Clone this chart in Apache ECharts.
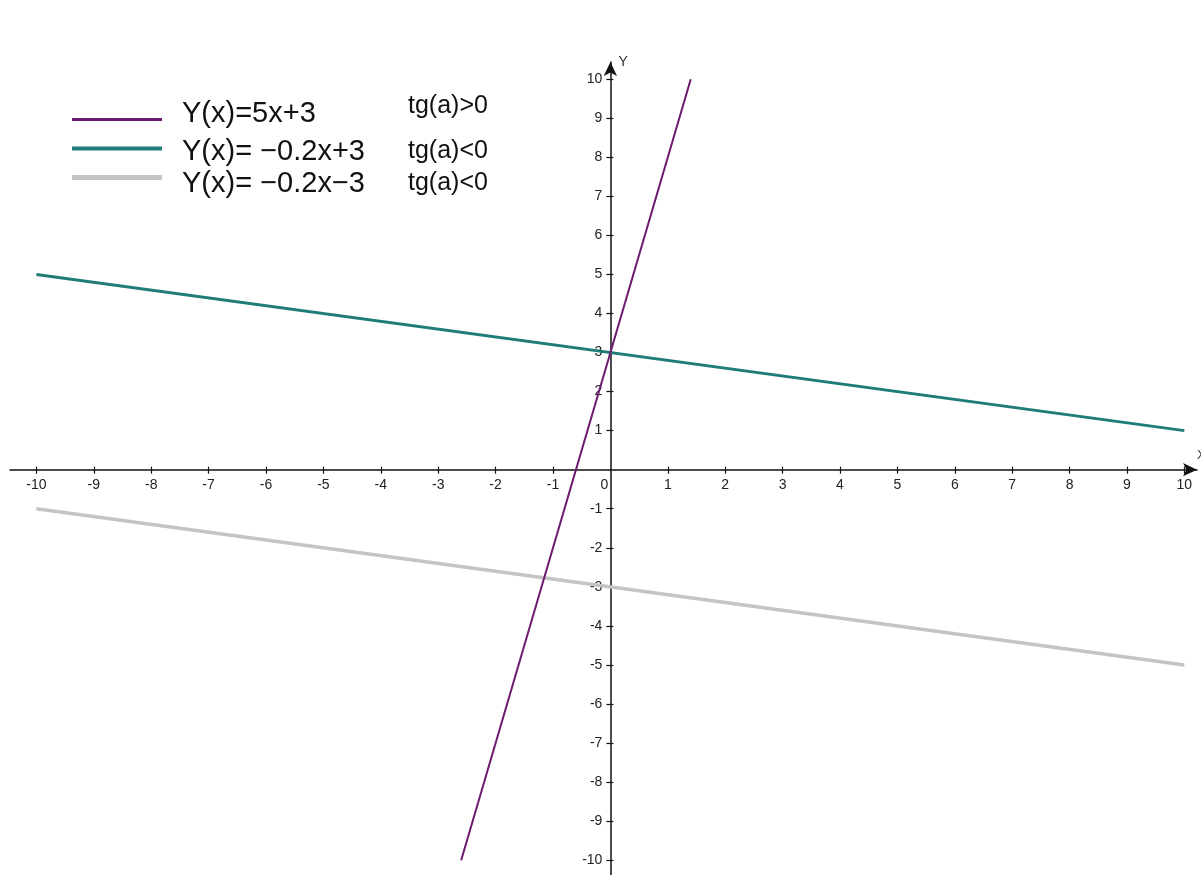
<!DOCTYPE html>
<html><head><meta charset="utf-8">
<script src="https://cdn.jsdelivr.net/npm/echarts@6/dist/echarts.min.js"></script>
<style>html,body{margin:0;padding:0;background:#fff}#c{width:1201px;height:875px}</style>
</head><body><div id="c"></div>
<script>
// Data
const seriesNames = ['Y(x)=5x+3', 'Y(x)= \u22120.2x+3', 'Y(x)= \u22120.2x\u22123'];
const slopeNotes = ['tg(a)>0', 'tg(a)<0', 'tg(a)<0'];
const purpleX = [-2.6, 1.4];
const purpleY = [-10, 10];
const tealX = [-10, 10];
const tealY = [5, 1];
const grayX = [-10, 10];
const grayY = [-1, -5];
const xTicks = [-10,-9,-8,-7,-6,-5,-4,-3,-2,-1,1,2,3,4,5,6,7,8,9,10];
const xLabels = [-10,-9,-8,-7,-6,-5,-4,-3,-2,-1,0,1,2,3,4,5,6,7,8,9,10];
const yTicks = [-10,-9,-8,-7,-6,-5,-4,-3,-2,-1,1,2,3,4,5,6,7,8,9,10];

const pairs = (xs, ys) => xs.map((x, i) => [x, ys[i]]);
const colors = ['#6c1a70', '#1f7c77', '#c4c4c4'];
const widths = [2, 3, 3.5];
const legendThick = [3, 4, 5];
const dataSets = [pairs(purpleX, purpleY), pairs(tealX, tealY), pairs(grayX, grayY)];

// layout
const W = 1201, H = 875;
const G = {left: 10, right: 4, top: 62, bottom: 0};
const xMin = -10.46, xMax = 10.22, yMin = -10.38, yMax = 10.44;
const gw = W - G.left - G.right, gh = H - G.top - G.bottom;
const zeroFromLeft = (0 - xMin) / (xMax - xMin) * gw;
const zeroFromBottom = (0 - yMin) / (yMax - yMin) * gh;

const FONT = 'Liberation Sans, Arial, sans-serif';
const labelFont = {color: '#222', fontFamily: FONT, fontSize: 14};

// per-row legend placement
const legendTops = [94, 137, 169];
const eqPads = [[0, 0, 12, 0], [6, 0, 0, 0], [12, 0, 0, 0]];
const notePads = [[0, 0, 26, 0], [6, 0, 0, 0], [12, 0, 0, 0]];

const legends = seriesNames.map((n, i) => ({
  orient: 'vertical', left: 72, top: legendTops[i], padding: 0,
  itemWidth: 90, itemHeight: legendThick[i], itemGap: 0,
  icon: 'rect',
  selectedMode: false,
  data: [n],
  formatter: name => '{a|' + name + '}{b|' + slopeNotes[i] + '}',
  textStyle: {
    padding: [0, 0, 0, 15],
    rich: {
      a: {fontFamily: FONT, fontSize: 29, color: '#111', width: 226, verticalAlign: 'middle', padding: eqPads[i]},
      b: {fontFamily: FONT, fontSize: 25, color: '#111', verticalAlign: 'middle', padding: notePads[i]}
    }
  }
}));

const tickStyle = {color: '#111', width: 1.2};

const chart = echarts.init(document.getElementById('c'), null, {renderer: 'canvas'});
chart.setOption({
  animation: false,
  backgroundColor: '#fff',
  grid: {left: G.left, right: G.right, top: G.top, bottom: G.bottom, containLabel: false, outerBoundsMode: 'none'},
  legend: legends,
  xAxis: [{
    type: 'value', min: xMin, max: xMax, position: 'bottom', offset: -zeroFromBottom,
    name: 'X', nameLocation: 'end', nameGap: 0,
    nameTextStyle: {color: '#333', fontFamily: FONT, fontSize: 13, verticalAlign: 'bottom', padding: [0, 0, 8, 0]},
    axisLine: {onZero: false, lineStyle: {color: '#111', width: 1.5}, symbol: ['none', 'arrow'], symbolSize: [10, 14]},
    axisTick: {show: true, customValues: xTicks, length: 4, lineStyle: tickStyle},
    axisLabel: {customValues: xLabels, margin: 8, ...labelFont,
      formatter: v => v === 0 ? '{z|0}' : String(v),
      rich: {z: {...labelFont, padding: [0, 12, 6, 0]}}},
    splitLine: {show: false}
  }, {
    type: 'value', min: xMin, max: xMax, position: 'top', offset: -(gh - zeroFromBottom),
    axisLine: {show: false, onZero: false},
    axisTick: {show: true, customValues: xTicks, length: 3, lineStyle: tickStyle},
    axisLabel: {show: false},
    splitLine: {show: false}
  }],
  yAxis: [{
    type: 'value', min: yMin, max: yMax, position: 'left', offset: -zeroFromLeft,
    name: 'Y', nameLocation: 'end', nameGap: 0,
    nameTextStyle: {color: '#333', fontFamily: FONT, fontSize: 14, align: 'left', verticalAlign: 'middle', padding: [0, 0, 0, 8]},
    axisLine: {onZero: false, lineStyle: {color: '#111', width: 1.5}, symbol: ['none', 'arrow'], symbolSize: [10, 14]},
    axisTick: {show: true, customValues: yTicks, length: 4, lineStyle: tickStyle},
    axisLabel: {customValues: yTicks, margin: 8, ...labelFont},
    splitLine: {show: false}
  }, {
    type: 'value', min: yMin, max: yMax, position: 'right', offset: -(gw - zeroFromLeft),
    axisLine: {show: false, onZero: false},
    axisTick: {show: true, customValues: yTicks, length: 3, lineStyle: tickStyle},
    axisLabel: {show: false},
    splitLine: {show: false}
  }],
  series: seriesNames.map((n, i) => ({
    name: n, type: 'line', data: dataSets[i], symbol: 'none',
    xAxisIndex: 0, yAxisIndex: 0,
    color: colors[i],
    lineStyle: {color: colors[i], width: widths[i]},
    z: 3 - i
  }))
});
</script></body></html>
